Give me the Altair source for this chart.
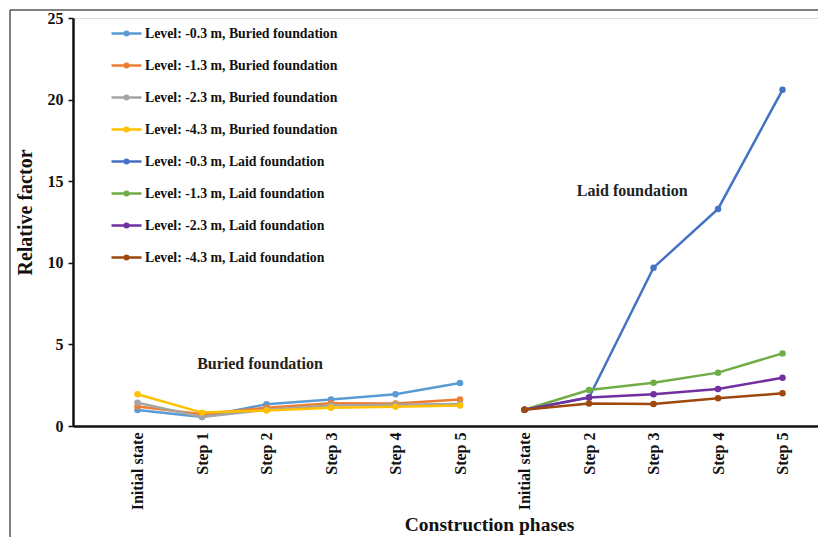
import altair as alt
import pandas as pd

categories = ["Initial state", "Step 1", "Step 2", "Step 3", "Step 4", "Step 5",
              "Initial state", "Step 2", "Step 3", "Step 4", "Step 5"]
buried_x = [0, 1, 2, 3, 4, 5]
laid_x = [6, 7, 8, 9, 10]

series_names = [
    "Level: -0.3 m,  Buried foundation",
    "Level: -1.3 m, Buried foundation",
    "Level: -2.3 m, Buried foundation",
    "Level: -4.3 m, Buried foundation",
    "Level: -0.3 m, Laid foundation",
    "Level: -1.3 m, Laid foundation",
    "Level: -2.3 m, Laid foundation",
    "Level: -4.3 m, Laid foundation",
]
series_colors = ["#5B9BD5", "#ED7D31", "#A5A5A5", "#FFC000",
                 "#4472C4", "#70AD47", "#7030A0", "#9E480E"]

buried_m03 = [0.98, 0.55, 1.33, 1.63, 1.95, 2.63]
buried_m13 = [1.20, 0.72, 1.12, 1.40, 1.38, 1.62]
buried_m23 = [1.42, 0.55, 1.00, 1.25, 1.30, 1.35]
buried_m43 = [1.95, 0.82, 0.95, 1.12, 1.18, 1.25]
laid_m03 = [1.00, 1.75, 9.70, 13.30, 20.60]
laid_m13 = [1.00, 2.20, 2.65, 3.27, 4.45]
laid_m23 = [1.00, 1.75, 1.95, 2.27, 2.95]
laid_m43 = [1.00, 1.38, 1.35, 1.70, 2.00]

annot_text = ["Buried foundation", "Laid foundation"]
annot_x = [1.9, 7.67]
annot_y = [3.8, 14.4]

rows = []
all_vals = [buried_m03, buried_m13, buried_m23, buried_m43,
            laid_m03, laid_m13, laid_m23, laid_m43]
for i, (name, vals) in enumerate(zip(series_names, all_vals)):
    xs = buried_x if i < 4 else laid_x
    for x, v in zip(xs, vals):
        rows.append({"series": name, "order": i, "x": x, "value": v})
df = pd.DataFrame(rows)
annot_df = pd.DataFrame({"text": annot_text, "x": annot_x, "y": annot_y})

FONT = "Liberation Serif"
label_expr = "[" + ",".join("'" + c + "'" for c in categories) + "][datum.value]"

x_enc = alt.X("x:Q", scale=alt.Scale(domain=[-1, 10.55], nice=False, zero=False),
              axis=alt.Axis(values=list(range(len(categories))), labelExpr=label_expr,
                            labelAngle=270, labelAlign="right", labelBaseline="middle",
                            ticks=False, grid=False, labelPadding=6,
                            labelFont=FONT, labelFontWeight="bold", labelFontSize=16,
                            labelColor="#111", domainColor="#111", domainWidth=2.5,
                            title="Construction phases", titleFont=FONT,
                            titleFontWeight="bold", titleFontSize=19.5, titleColor="#111",
                            titleX=416, titleY=104, titleAnchor="middle",
                            titleBaseline="alphabetic"))
y_enc = alt.Y("value:Q", scale=alt.Scale(domain=[0, 25], nice=False),
              axis=alt.Axis(values=[0, 5, 10, 15, 20, 25], grid=False,
                            tickSize=5, tickWidth=1.5, tickColor="#111",
                            domainColor="#111", domainWidth=2.5,
                            labelFont=FONT, labelFontWeight="bold", labelFontSize=16,
                            labelColor="#111", labelPadding=5,
                            title="Relative factor", titleFont=FONT,
                            titleFontWeight="bold", titleFontSize=20, titleColor="#111",
                            titlePadding=12, titleY=194))

color_scale = alt.Scale(domain=series_names, range=series_colors)
symbol_path = ("M-1,0L1,0M-0.12,0A0.12,0.12 0 1,0 0.12,0"
               "A0.12,0.12 0 1,0 -0.12,0Z")

lines = alt.Chart(df).mark_line(strokeWidth=2.5).encode(
    x=x_enc, y=y_enc,
    color=alt.Color("series:N", scale=color_scale,
                    legend=alt.Legend(orient="none", legendX=37, legendY=-1,
                                      title=None, symbolType=symbol_path,
                                      symbolSize=900, symbolStrokeWidth=2.5,
                                      rowPadding=8, labelOffset=2,
                                      labelFont=FONT, labelFontWeight="bold",
                                      labelFontSize=13.8, labelColor="#111",
                                      labelLimit=400)),
    detail="order:O",
    order="x:Q",
)
points = alt.Chart(df).mark_circle(size=42, opacity=1).encode(
    x="x:Q", y="value:Q",
    color=alt.Color("series:N", scale=color_scale, legend=None),
)
annots = alt.Chart(annot_df).mark_text(font=FONT, fontWeight="bold", fontSize=16,
                                       color="#222").encode(
    x="x:Q", y="y:Q", text="text:N")
frame = alt.Chart(annot_df).mark_rect(filled=False, stroke="#555", strokeWidth=1).encode(
    x=alt.value(-63), x2=alt.value(900), y=alt.value(-8), y2=alt.value(700))

chart = alt.layer(frame, lines, points, annots).properties(
    width=745, height=408,
    autosize=alt.AutoSizeParams(type="none"),
    padding={"left": 65, "top": 10, "right": 0, "bottom": 111},
).configure_view(stroke=None).configure(background="white")

chart.save("out.html", embed_options={"renderer": "svg", "actions": False})
